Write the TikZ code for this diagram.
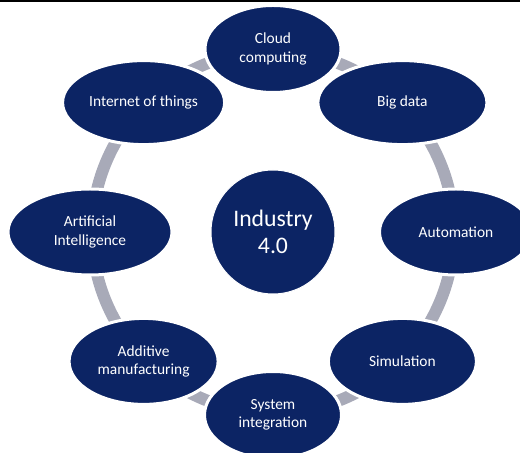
\documentclass[tikz,border=0pt]{standalone}
\usepackage{fontspec}
\setmainfont{Carlito}
\usetikzlibrary{shapes.geometric}
\definecolor{navy}{RGB}{12,36,100}
\definecolor{ringgray}{RGB}{168,170,184}

\begin{document}
\begin{tikzpicture}[x=1bp,y=1bp,
    petal/.style={ellipse,fill=navy,draw=white,line width=3bp,inner sep=0pt,
        text=white,align=center,font=\fontsize{15.5}{18.5}\selectfont},
    ring/.style={ringgray,line width=12bp}]

    % Cornice
    \useasboundingbox (-273,-221) rectangle (247,232);
    \draw[line width=2.5bp] (-273,230.75) -- (247,230.75);

    % Cerchio centrale
    \node[circle,fill=navy,draw=white,line width=1bp,minimum size=124bp,inner sep=0pt,
        text=white,align=center,font=\fontsize{23.8}{27}\selectfont]
        (ind) at (0,0) {Industry\\4.0};

    % Archi grigi
    \foreach \a in {22.5,67.5,...,337.5}{
        \draw[ring] ([shift={(\a+18:181bp)}]ind.center)
            arc[start angle=\a+18,end angle=\a-18,radius=181bp];
    }

    % Ellissi esterne
    \foreach \a/\n/\w/\h/\t in {
        90/cloud/133/84/{Cloud\\computing},
        45/bigdata/166/81/{Big data},
        0/autom/150/83/{Automation},
        -45/sim/145/83/{Simulation},
        -90/sysint/134/84/{System\\integration},
        -135/addman/146/83/{Additive\\manufacturing},
        180/ai/161/83/{Artificial\\Intelligence},
        135/iot/159/81/{Internet of things}}{
        \node[petal,minimum width=\w bp+3bp,minimum height=\h bp+3bp]
            (\n) at (\a:183bp) {\t};
    }

\end{tikzpicture}
\end{document}
